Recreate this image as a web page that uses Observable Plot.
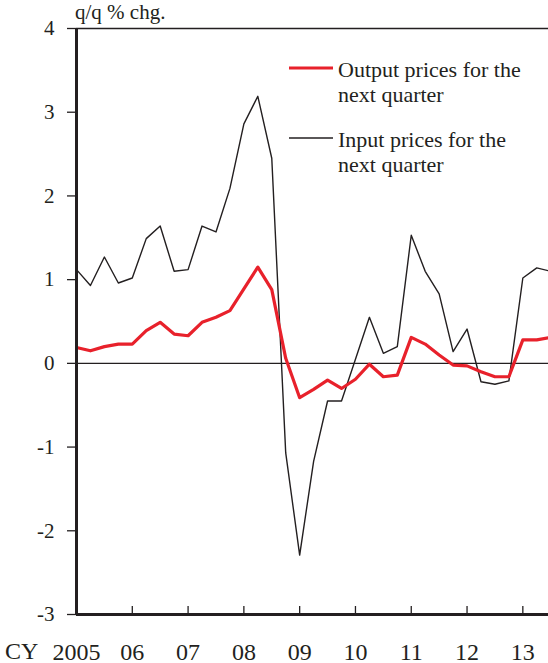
<!DOCTYPE html>
<html><head><meta charset="utf-8">
<script src="https://cdn.jsdelivr.net/npm/d3@7"></script>
<script src="https://cdn.jsdelivr.net/npm/@observablehq/plot@0.6"></script>
<style>body{margin:0;background:#fff} svg{display:block}</style>
</head><body><div id="chart"></div>
<script>
const quarters = [
  "2005Q1","2005Q2","2005Q3","2005Q4","2006Q1","2006Q2","2006Q3","2006Q4",
  "2007Q1","2007Q2","2007Q3","2007Q4","2008Q1","2008Q2","2008Q3","2008Q4",
  "2009Q1","2009Q2","2009Q3","2009Q4","2010Q1","2010Q2","2010Q3","2010Q4",
  "2011Q1","2011Q2","2011Q3","2011Q4","2012Q1","2012Q2","2012Q3","2012Q4",
  "2013Q1","2013Q2","2013Q3"
];
const outputPrices = [
  0.19,0.15,0.20,0.23,0.23,0.39,0.49,0.35,
  0.33,0.49,0.55,0.63,0.89,1.15,0.88,0.06,
  -0.41,-0.31,-0.20,-0.30,-0.19,-0.01,-0.16,-0.14,
  0.31,0.23,0.10,-0.02,-0.03,-0.10,-0.16,-0.16,
  0.28,0.28,0.31
];
const inputPrices = [
  1.12,0.93,1.27,0.96,1.02,1.49,1.64,1.10,
  1.12,1.64,1.57,2.09,2.86,3.19,2.45,-1.07,
  -2.29,-1.17,-0.45,-0.45,0.05,0.55,0.12,0.20,
  1.53,1.10,0.83,0.14,0.41,-0.22,-0.25,-0.21,
  1.02,1.14,1.10
];
const yTicks = [-3,-2,-1,0,1,2,3,4];
const xTickYears = [2005,2006,2007,2008,2009,2010,2011,2012,2013];
const xTickLabels = ["2005","06","07","08","09","10","11","12","13"];
const seriesNames = ["Output prices for the\nnext quarter","Input prices for the\nnext quarter"];
const titleText = "q/q % chg.";
const prefixText = "CY";

const ink = "#231f20";
const red = "#e8212b";
const font = "'Liberation Serif', 'Times New Roman', serif";

const rows = quarters.map((q, i) => ({
  t: +q.slice(0,4) + (+q.slice(5) - 1) / 4,
  output: outputPrices[i],
  input: inputPrices[i]
}));
const labelOf = new Map(xTickYears.map((y, i) => [y, xTickLabels[i]]));

const H = 663, mT = 28, mB = 49;
const tickLen = 8 * 7 / (H - mT - mB);

const svg = Plot.plot({
  width: 548, height: H,
  marginTop: mT, marginBottom: mB, marginLeft: 76, marginRight: 0,
  style: {fontFamily: font, color: ink, background: "#fff", overflow: "visible"},
  x: {domain: [2005, 2013.46], label: null},
  y: {domain: [-3, 4], label: null},
  marks: [
    Plot.ruleY([0, 4], {stroke: ink, strokeWidth: 1.3}),
    Plot.line(rows, {x: "t", y: "input", stroke: ink, strokeWidth: 1.4, clip: true}),
    Plot.line(rows, {x: "t", y: "output", stroke: red, strokeWidth: 3.2, clip: true}),
    Plot.ruleX(xTickYears.slice(1), {x: d => d, y1: -3, y2: -3 + tickLen, stroke: ink, strokeWidth: 1.3}),
    Plot.ruleX([2005], {stroke: ink, strokeWidth: 3}),
    Plot.ruleY([-3], {stroke: ink, strokeWidth: 3}),
    Plot.axisY({ticks: yTicks, tickSize: 9, tickPadding: 13, fontSize: 21, tickFormat: d => String(d), label: null, stroke: ink, strokeWidth: 1.3}),
    Plot.axisX({ticks: xTickYears, tickSize: 0, tickPadding: 28, fontSize: 24, tickFormat: d => labelOf.get(d), label: null})
  ]
});

const s = d3.select(svg);
s.append("text").attr("x", 75).attr("y", 19).attr("font-size", 21).attr("text-anchor", "start")
  .attr("fill", ink).attr("font-family", font).text(titleText);
s.append("text").attr("x", 5).attr("y", 659).attr("font-size", 24).attr("text-anchor", "start")
  .attr("fill", ink).attr("font-family", font).text(prefixText);

const legend = [
  {color: red, width: 3.2, y: 68},
  {color: ink, width: 1.4, y: 138}
];
legend.forEach((L, i) => {
  const g = s.append("g");
  g.append("line").attr("x1", 289).attr("x2", 333).attr("y1", L.y).attr("y2", L.y)
    .attr("stroke", L.color).attr("stroke-width", L.width);
  const t = g.append("text").attr("font-size", 22).attr("text-anchor", "start")
    .attr("fill", ink).attr("font-family", font);
  seriesNames[i].split("\n").forEach((line, j) => {
    t.append("tspan").attr("x", 338).attr("y", L.y + 9 + j * 24.5).text(line);
  });
});

document.getElementById("chart").append(svg);
</script>
</body></html>
